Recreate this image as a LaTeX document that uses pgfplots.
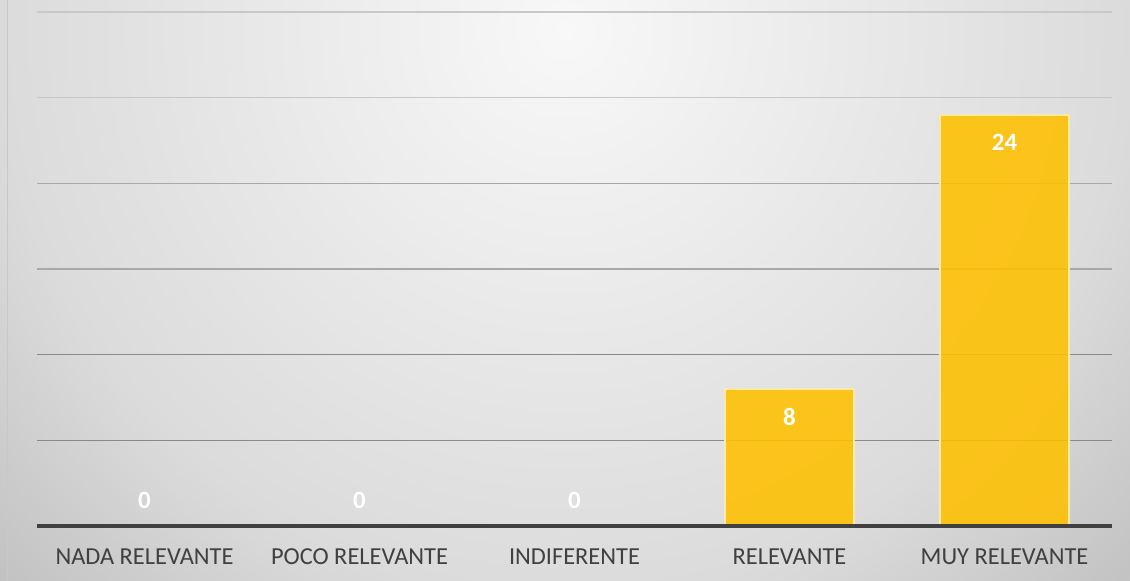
\documentclass[border=0pt]{standalone}
\usepackage{pgfplots}
\pgfplotsset{compat=1.18}
\usepackage{fontspec}
\setmainfont{Carlito}
\definecolor{bar}{RGB}{255,192,0}
\definecolor{baredge}{RGB}{253,233,168}
\definecolor{lbl}{RGB}{64,64,64}
\definecolor{g0}{RGB}{248,248,248}
\definecolor{g1}{RGB}{219,219,219}
\definecolor{g2}{RGB}{193,193,193}
\definecolor{gridA}{RGB}{138,138,138}
\definecolor{gridB}{RGB}{168,168,168}
\definecolor{gridC}{RGB}{200,200,200}
\pgfdeclareradialshading{bgshade}{\pgfpoint{0bp}{0bp}}{color(0bp)=(g0); color(17.7bp)=(g1); color(25bp)=(g2); color(50bp)=(g2)}
\begin{document}
\begin{tikzpicture}[x=1bp,y=1bp]
\useasboundingbox (0,0) rectangle (1130,581);
\begin{scope}
\clip (0,0) rectangle (1130,581);
\shade[shading=bgshade] (565,551) circle (800);
\end{scope}
\draw[color={rgb,255:red,200;green,200;blue,200}, line width=1.5bp] (7.5,0) -- (7.5,581);
\begin{axis}[at={(37bp,55bp)}, anchor=south west, scale only axis,
  width=1075bp, height=514bp,
  xmin=-0.5, xmax=4.5, ymin=0, ymax=30,
  axis line style={draw=none},
  xtick={0,...,4},
  xticklabels={NADA RELEVANTE, POCO RELEVANTE, INDIFERENTE, RELEVANTE, MUY RELEVANTE},
  ytick={15,20}, minor ytick={25,30},
  extra y ticks={5,10}, extra y tick labels={},
  yticklabels={},
  major tick length=0, minor tick length=0,
  ymajorgrids, yminorgrids,
  major grid style={color=gridB, line width=1.6bp},
  minor grid style={color=gridC, line width=1.6bp},
  extra y tick style={ymajorgrids=true, major grid style={color=gridA, line width=1.6bp}},
  xticklabel style={anchor=base, yshift=-39bp, font=\fontsize{24.5}{29}\selectfont, text=lbl},
  clip=false,
  /pgf/number format/assume math mode=true]
\addplot[ybar, bar width=0.6, bar shift=0pt, fill=bar, fill opacity=0.88, draw=baredge, line width=1.5bp,
  nodes near coords,
  every node near coord/.append style={anchor=center, yshift=-28bp, text=white, text opacity=1, font=\bfseries\fontsize{25}{30}\selectfont}]
  coordinates {(3,8) (4,24)};
\addplot[only marks, mark=none, nodes near coords,
  every node near coord/.append style={anchor=center, yshift=26bp, text=white, text opacity=1, font=\bfseries\fontsize{25}{30}\selectfont}]
  coordinates {(0,0) (1,0) (2,0)};
\draw[line width=4bp, color=lbl] (rel axis cs:0,0) -- (rel axis cs:1,0);
\end{axis}
\end{tikzpicture}
\end{document}
